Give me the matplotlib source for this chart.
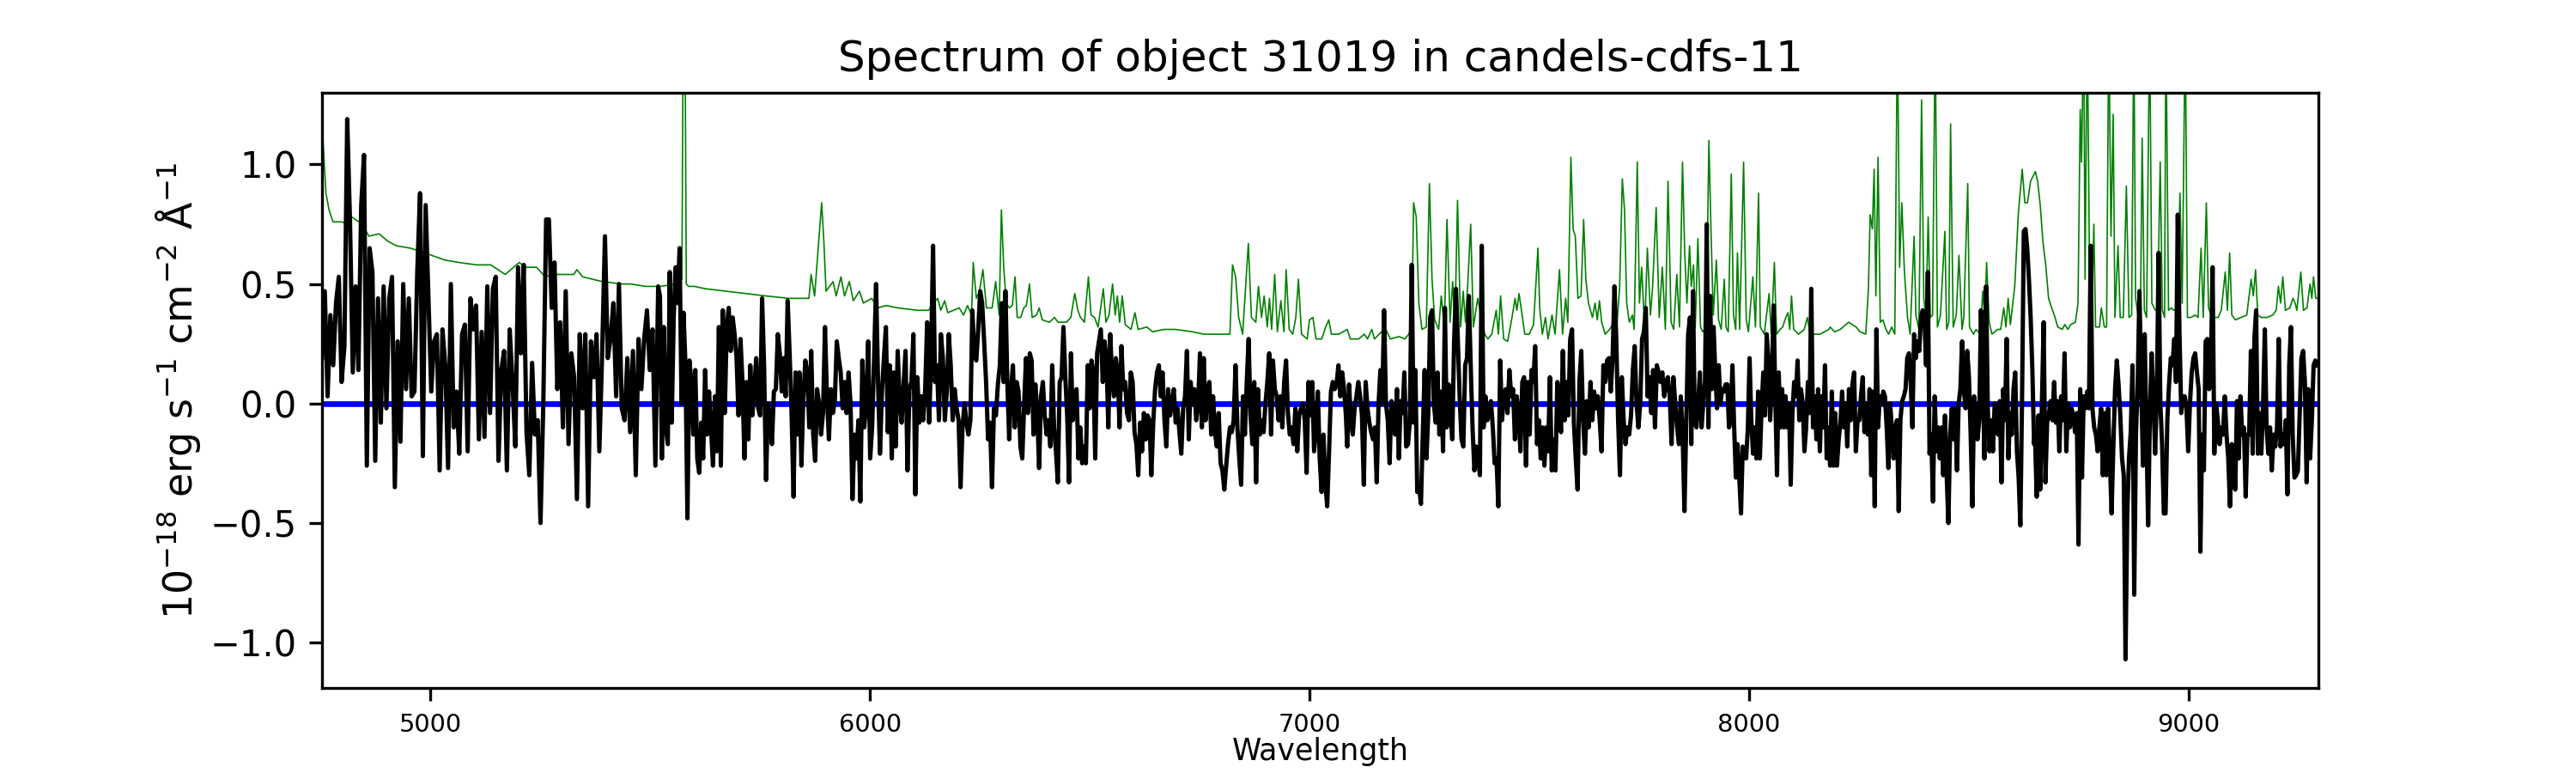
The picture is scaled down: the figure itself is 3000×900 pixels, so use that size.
import numpy as np
import matplotlib
matplotlib.use("Agg")
import matplotlib.pyplot as plt

# flux of object 31019 in six wavelength chunks
flux_a = [0.19, 0.47, 0.03, 0.37, 0.16, 0.42, 0.53, 0.09, 0.24, 1.19, 0.76, 0.13, 0.49, 0.14, 0.83, 1.04,
          -0.26, 0.65, 0.55, -0.24, 0.44, -0.08, 0.49, -0.02, 0.44, 0.53, -0.35, 0.26, -0.16, 0.50, 0.06,
          0.44, 0.03, 0.05, 0.55, 0.88, -0.22, 0.83, 0.44, 0.05, 0.26, 0.29, -0.28, 0.31, 0.16, -0.27, 0.50,
          -0.10, 0.05, -0.21, 0.29, 0.33, -0.20, 0.44, 0.31, 0.41, -0.15, 0.30, -0.14, 0.49, -0.04, 0.48,
          0.53, -0.24, 0.14, 0.22, -0.28, 0.31, 0.09, -0.18, 0.57, 0.21, 0.58, -0.12, -0.30, 0.17, -0.13,
          -0.07, -0.50, 0.00, 0.77, 0.77, 0.40, 0.59, 0.06, 0.34, -0.10, 0.47, -0.17, 0.21, 0.11, -0.40,
          0.29, -0.02, 0.29, -0.43, 0.26, 0.11, 0.29, -0.20, 0.21, 0.70, 0.19, 0.27, 0.42, 0.03, 0.50,
          -0.02, -0.07, 0.19, -0.12, 0.22, -0.30, 0.27, 0.06, 0.27, 0.39, 0.14, 0.31, -0.26, 0.49]
flux_b = [0.45, -0.23, 0.32, -0.10, -0.17, 0.55, -0.08, 0.36, 0.57, 0.42, 0.65, 0.00, 0.38, 0.16, -0.48,
          0.18, 0.09, -0.13, 0.14, -0.23, -0.29, -0.08, -0.23, 0.14, -0.13, 0.05, -0.10, -0.26, 0.03, -0.20,
          0.32, -0.26, 0.39, -0.04, 0.32, 0.40, 0.22, 0.36, 0.29, 0.19, -0.05, 0.27, 0.09, -0.23, 0.09,
          -0.15, 0.16, -0.05, 0.06, 0.19, -0.02, -0.05, 0.44, 0.16, -0.32, 0.00, -0.05, -0.17, 0.05, 0.06,
          0.29, 0.21, 0.05, 0.19, 0.03, 0.43, 0.21, -0.04, -0.39, 0.13, -0.13, 0.13, -0.26, 0.03, 0.18,
          0.13, -0.10, 0.22, -0.13, -0.24, 0.06, 0.00, -0.13, -0.04, 0.32, 0.03, -0.15, 0.06, -0.04, 0.01,
          0.26, 0.19, 0.13, -0.02, 0.09, -0.04, 0.13, 0.00, -0.40, -0.13, -0.23, -0.07, -0.41, 0.18, -0.10,
          0.00, 0.26, -0.23, -0.10, 0.19, 0.50, 0.09, -0.21, 0.05, 0.19, 0.32, -0.12, 0.16, -0.23, 0.13,
          -0.18, 0.22, 0.01, -0.08, 0.08, 0.22, -0.28, 0.06, 0.09, 0.29, -0.38, 0.11, -0.08, 0.03, -0.07,
          0.06, 0.34, -0.08, 0.19, 0.66, 0.09, 0.16, -0.07, 0.29, 0.19, -0.07, 0.05, 0.29, 0.16, -0.07,
          0.06, -0.02, -0.07, -0.35, -0.10, 0.00, -0.08, -0.13, -0.07, 0.39, 0.21, 0.18, 0.31, 0.47, 0.42,
          0.26, 0.09, -0.15, -0.08, -0.35, -0.02, -0.05, 0.08, 0.16, 0.42]
flux_c = [0.09, 0.47, 0.09, -0.15, 0.06, 0.16, -0.10, 0.09, 0.05, -0.18, -0.23, 0.00, 0.19, -0.04, 0.21,
          0.18, -0.13, 0.08, -0.04, -0.27, 0.03, 0.09, -0.05, -0.13, -0.07, -0.18, 0.16, -0.10, -0.20,
          -0.33, 0.09, 0.11, 0.32, 0.11, -0.05, -0.33, 0.21, -0.07, 0.03, 0.06, -0.23, -0.10, -0.25, -0.18,
          -0.25, 0.16, -0.02, 0.18, 0.13, -0.23, 0.21, 0.26, 0.31, 0.09, 0.26, 0.19, -0.10, 0.29, 0.11,
          0.03, 0.19, 0.13, -0.10, 0.24, 0.06, 0.09, -0.04, -0.07, 0.13, 0.09, -0.12, -0.17, -0.30, -0.08,
          -0.20, -0.04, -0.15, -0.05, -0.07, -0.30, -0.08, 0.06, 0.13, 0.16, 0.03, 0.13, -0.07, -0.18, 0.06,
          -0.05, 0.00, 0.06, -0.08, -0.02, -0.12, -0.21, -0.02, 0.03, 0.22, -0.15, 0.09, 0.00, 0.06, -0.07,
          0.00, 0.21, -0.10, 0.19, -0.07, 0.05, 0.09, -0.13, 0.03, -0.12, -0.18, -0.04, -0.25, -0.28, -0.36,
          -0.26, -0.17, -0.10, -0.12, -0.07, 0.16, -0.10, -0.23, -0.34, 0.03, -0.13, 0.09, 0.27, -0.05,
          -0.17, 0.09, -0.33, 0.06, -0.13, -0.07, -0.12, 0.00, 0.09, 0.21, -0.13, 0.18, 0.06, 0.03, -0.07,
          0.03, -0.10, 0.09, 0.18, -0.04, -0.13, -0.10, -0.17, -0.02, -0.20, -0.05, -0.02, 0.00, -0.07,
          -0.29, 0.09, -0.05, 0.09, -0.20, -0.10, 0.05, -0.23, -0.37, -0.13, -0.33, -0.43, -0.20, 0.05,
          0.09, 0.06, 0.08, 0.16, 0.03, 0.13, 0.06, -0.05]
flux_d = [-0.18, 0.08, -0.07, -0.13, -0.02, 0.03, 0.09, 0.03, -0.05, -0.34, 0.09, -0.02, -0.08, -0.12,
          -0.15, -0.10, -0.33, 0.00, 0.14, 0.00, 0.39, 0.00, -0.07, -0.25, 0.01, -0.04, -0.13, 0.06, -0.23,
          0.01, -0.04, 0.13, -0.18, -0.17, -0.07, 0.58, -0.08, 0.14, -0.37, -0.35, -0.42, -0.13, 0.14,
          -0.23, -0.04, 0.36, 0.39, 0.00, -0.08, 0.13, -0.13, 0.05, -0.20, 0.40, -0.10, 0.08, -0.02, -0.15,
          0.26, 0.48, 0.27, 0.03, -0.15, -0.18, 0.16, 0.19, 0.45, 0.16, -0.10, -0.28, -0.18, -0.23, -0.30,
          0.66, -0.10, 0.03, -0.07, -0.04, 0.01, -0.10, -0.25, -0.23, -0.43, 0.18, -0.07, 0.03, 0.06, -0.04,
          0.14, 0.03, 0.06, -0.15, 0.03, -0.05, -0.20, 0.09, 0.11, -0.26, 0.09, -0.13, 0.14, 0.09, 0.24,
          -0.17, -0.07, -0.23, -0.10, -0.26, -0.10, -0.20, 0.11, -0.28, -0.15, -0.28, 0.09, 0.03, -0.12,
          0.22, -0.07, 0.09, -0.05, 0.27, 0.31, -0.08, -0.23, -0.36, 0.09, 0.22, -0.07, -0.21, 0.01, -0.10,
          0.09, -0.07, 0.05, -0.02, 0.03, -0.07, -0.20, 0.16, 0.09, 0.18, 0.19, 0.05, 0.19, 0.49, 0.27,
          -0.07, -0.30, 0.11, -0.07, -0.17, -0.10, -0.13, -0.05, 0.14, 0.24, 0.00, -0.10, 0.00, 0.27, 0.30,
          0.40, 0.03, 0.11, -0.04, 0.14, -0.10, 0.16, 0.13, 0.09, 0.13, 0.03, 0.09, 0.11, 0.03, -0.17,
          0.11, 0.00, -0.10, -0.17, 0.03, -0.13, -0.45, -0.07, 0.29, 0.36]
flux_e = [-0.17, 0.47, -0.08, -0.10, 0.00, 0.13, -0.10, 0.00, 0.09, 0.75, -0.10, 0.45, 0.06, 0.32, 0.13,
          -0.02, 0.16, 0.00, 0.06, 0.05, 0.08, 0.08, -0.10, -0.07, 0.16, -0.10, -0.31, -0.17, -0.31, -0.46,
          -0.18, -0.20, -0.23, -0.10, 0.19, -0.07, -0.21, -0.10, -0.23, 0.05, -0.23, -0.02, 0.13, -0.05,
          0.29, 0.18, -0.07, 0.09, 0.41, 0.03, -0.30, 0.13, -0.10, 0.06, -0.10, 0.03, -0.10, 0.00, -0.34,
          -0.04, 0.09, 0.03, 0.18, -0.07, 0.06, 0.00, -0.20, -0.10, 0.09, -0.04, 0.48, -0.10, 0.03, -0.15,
          0.06, -0.20, 0.03, -0.10, 0.16, -0.23, -0.10, -0.26, 0.05, -0.26, -0.04, -0.26, -0.15, -0.08,
          0.05, -0.10, 0.00, -0.18, 0.06, -0.07, 0.08, 0.13, -0.20, -0.07, -0.07, 0.03, 0.11, -0.12, 0.00,
          -0.13, 0.06, -0.30, 0.05, -0.43, 0.31, -0.10, 0.03, 0.00, 0.05, 0.03, -0.10, -0.27, 0.00, -0.10,
          -0.23, -0.10, -0.07, -0.45, -0.07, 0.01, 0.03, 0.06, 0.19, 0.21, 0.09, -0.10, 0.29, 0.19, 0.26,
          0.22, 0.36, 0.39, 0.36, 0.16, 0.55, -0.21, -0.13, -0.41, 0.03, -0.20, -0.10, -0.23, -0.10, -0.30,
          -0.05, -0.30, -0.50, -0.13, -0.02, -0.15, -0.02, -0.28, 0.00, 0.06, 0.26, 0.06, -0.02, 0.22, 0.11,
          -0.13, -0.43, 0.03, -0.04, -0.15, -0.07, 0.39, 0.16, -0.23, 0.49, -0.02, -0.20, -0.07, -0.20, 0.00,
          -0.04, -0.13, 0.01, -0.33, 0.06, -0.07, 0.27, -0.23, -0.04, -0.13, 0.06, 0.13, -0.20, -0.31, -0.51,
          0.03, 0.72, 0.73, 0.65, 0.52, 0.36, 0.14, -0.17]
flux_f = [-0.13, -0.39, -0.05, -0.36, 0.00, 0.34, -0.33, -0.08, -0.04, 0.01, -0.07, 0.09, -0.08, 0.01,
          -0.20, 0.03, -0.07, 0.21, -0.20, 0.00, -0.10, -0.02, -0.05, -0.12, -0.04, -0.59, 0.06, -0.31,
          0.03, -0.02, 0.05, -0.02, 0.66, -0.02, -0.10, -0.13, -0.20, -0.10, -0.02, -0.30, -0.04, -0.30,
          -0.02, -0.23, -0.46, -0.18, 0.06, 0.18, 0.08, -0.05, -0.23, -0.30, -1.07, -0.46, -0.23, -0.12,
          0.16, -0.80, -0.13, 0.09, 0.47, 0.09, -0.26, 0.29, -0.10, -0.51, -0.04, 0.21, 0.03, -0.21, 0.03,
          0.63, 0.00, -0.17, -0.46, -0.46, -0.07, 0.08, 0.19, 0.16, 0.27, 0.09, 0.79, 0.29, -0.04, 0.03,
          0.03, -0.02, -0.20, 0.00, 0.13, 0.19, 0.21, 0.13, 0.06, -0.62, -0.13, -0.28, 0.26, 0.27, 0.06,
          0.13, 0.57, -0.21, 0.00, -0.07, -0.17, -0.10, -0.13, 0.03, -0.13, -0.23, -0.43, -0.17, -0.21,
          -0.36, 0.01, -0.23, 0.03, -0.13, -0.10, -0.39, -0.13, -0.13, 0.22, -0.21, 0.27, 0.39, -0.21,
          -0.04, -0.21, 0.00, 0.31, -0.10, -0.21, -0.10, -0.28, -0.13, -0.18, -0.10, 0.27, -0.18, -0.13,
          -0.17, -0.07, -0.38, 0.16, 0.32, -0.13, -0.31, -0.30, -0.28, -0.04, 0.19, 0.22, 0.09, -0.33,
          0.06, -0.23, -0.07, 0.16, 0.18, 0.16]
chunk_edges = [(4753, 5518), (5522, 6300), (6304, 7083), (7086, 7866), (7869, 8649), (8651, 9293)]

# sky / noise spectrum (green), wavelength and value pairs
sky_wave = [4751, 4762, 4769, 4778, 4798, 4811, 4821, 4837, 4850, 4860, 4883, 4902, 4922, 4954, 4987,
            5033, 5065, 5104, 5137, 5170, 5189, 5202, 5215, 5241, 5261, 5280, 5326, 5333, 5346, 5391,
            5437, 5456, 5489, 5522, 5561, 5572, 5575, 5579, 5582, 5587, 5600, 5626, 5672, 5717, 5763,
            5815, 5861, 5866, 5874, 5890, 5895, 5900, 5916, 5923, 5934, 5942, 5953, 5962, 5976, 5985,
            6004, 6017, 6037, 6063, 6108, 6134, 6140, 6154, 6161, 6170, 6177, 6203, 6213, 6222, 6231,
            6235, 6242, 6249, 6257, 6265, 6278, 6286, 6294, 6299, 6304, 6310, 6317, 6324, 6330, 6335,
            6343, 6350, 6356, 6363, 6369, 6379, 6385, 6392, 6408, 6420, 6428, 6447, 6457, 6466, 6473,
            6479, 6488, 6497, 6503, 6511, 6519, 6531, 6537, 6544, 6552, 6558, 6563, 6568, 6574, 6581,
            6594, 6603, 6610, 6630, 6643, 6669, 6695, 6734, 6760, 6799, 6819, 6825, 6832, 6839, 6848,
            6861, 6868, 6878, 6884, 6891, 6897, 6904, 6909, 6914, 6921, 6927, 6935, 6942, 6947, 6954,
            6962, 6969, 6975, 6982, 6995, 7000, 7008, 7015, 7028, 7037, 7044, 7050, 7067, 7086, 7093,
            7112, 7125, 7132, 7142, 7148, 7164, 7174, 7184, 7204, 7217, 7226, 7233, 7237, 7243, 7249,
            7256, 7266, 7273, 7279, 7285, 7294, 7300, 7307, 7313, 7320, 7326, 7331, 7337, 7344, 7350,
            7355, 7360, 7367, 7373, 7383, 7391, 7399, 7406, 7415, 7425, 7430, 7435, 7442, 7451, 7461,
            7468, 7472, 7477, 7484, 7490, 7500, 7510, 7520, 7524, 7530, 7537, 7543, 7552, 7559, 7569,
            7576, 7583, 7588, 7595, 7600, 7605, 7611, 7618, 7624, 7629, 7635, 7644, 7650, 7655, 7660,
            7665, 7673, 7683, 7693, 7699, 7706, 7712, 7717, 7722, 7728, 7735, 7739, 7746, 7751, 7756,
            7763, 7769, 7776, 7781, 7789, 7796, 7803, 7810, 7816, 7823, 7829, 7836, 7842, 7849, 7854,
            7859, 7865, 7869, 7874, 7878, 7884, 7890, 7895, 7903, 7909, 7914, 7919, 7926, 7931, 7937,
            7944, 7948, 7953, 7960, 7965, 7970, 7974, 7979, 7988, 7994, 7999, 8009, 8015, 8022, 8026,
            8035, 8046, 8051, 8058, 8063, 8071, 8077, 8084, 8089, 8093, 8097, 8102, 8113, 8126, 8133,
            8139, 8162, 8182, 8185, 8195, 8208, 8227, 8244, 8253, 8266, 8272, 8276, 8281, 8285, 8289,
            8294, 8299, 8305, 8312, 8318, 8325, 8332, 8338, 8343, 8348, 8354, 8361, 8367, 8376, 8380,
            8387, 8393, 8398, 8403, 8408, 8413, 8418, 8424, 8429, 8436, 8446, 8450, 8455, 8459, 8465,
            8472, 8478, 8485, 8489, 8498, 8502, 8511, 8517, 8527, 8532, 8537, 8541, 8547, 8553, 8566,
            8573, 8580, 8585, 8590, 8595, 8605, 8613, 8622, 8628, 8634, 8641, 8652, 8657, 8663, 8669,
            8676, 8682, 8689, 8695, 8703, 8713, 8719, 8726, 8732, 8743, 8749, 8754, 8757, 8762, 8765,
            8770, 8775, 8780, 8785, 8789, 8798, 8802, 8809, 8814, 8819, 8824, 8829, 8833, 8840, 8845,
            8852, 8859, 8865, 8871, 8876, 8880, 8886, 8891, 8895, 8900, 8905, 8912, 8917, 8925, 8930,
            8936, 8941, 8946, 8949, 8955, 8961, 8967, 8974, 8981, 8986, 8993, 8998, 9006, 9016, 9022,
            9029, 9034, 9041, 9046, 9052, 9060, 9068, 9075, 9084, 9089, 9094, 9099, 9107, 9120, 9133,
            9143, 9148, 9153, 9158, 9166, 9179, 9192, 9200, 9205, 9210, 9215, 9221, 9231, 9238, 9243,
            9247, 9256, 9262, 9270, 9277, 9281, 9285, 9290, 9296]
sky_flux = [1.24, 0.88, 0.81, 0.76, 0.76, 0.75, 0.78, 0.76, 0.73, 0.70, 0.71, 0.68, 0.66, 0.65, 0.63,
            0.60, 0.59, 0.58, 0.58, 0.54, 0.57, 0.59, 0.57, 0.57, 0.53, 0.54, 0.54, 0.56, 0.53, 0.51,
            0.50, 0.50, 0.49, 0.49, 0.50, 0.52, 1.60, 1.60, 0.50, 0.49, 0.49, 0.48, 0.47, 0.46, 0.45,
            0.44, 0.44, 0.54, 0.45, 0.84, 0.68, 0.47, 0.51, 0.45, 0.53, 0.45, 0.51, 0.43, 0.47, 0.42,
            0.44, 0.40, 0.41, 0.40, 0.39, 0.39, 0.41, 0.44, 0.39, 0.43, 0.38, 0.40, 0.37, 0.41, 0.37,
            0.59, 0.44, 0.47, 0.56, 0.40, 0.40, 0.51, 0.37, 0.81, 0.58, 0.42, 0.40, 0.41, 0.53, 0.36,
            0.36, 0.40, 0.41, 0.50, 0.36, 0.37, 0.40, 0.35, 0.34, 0.36, 0.34, 0.34, 0.36, 0.46, 0.39,
            0.36, 0.34, 0.53, 0.37, 0.36, 0.32, 0.48, 0.34, 0.37, 0.50, 0.37, 0.45, 0.34, 0.45, 0.33,
            0.31, 0.38, 0.31, 0.32, 0.30, 0.31, 0.31, 0.30, 0.29, 0.29, 0.29, 0.58, 0.53, 0.36, 0.29,
            0.67, 0.36, 0.34, 0.49, 0.36, 0.45, 0.32, 0.44, 0.31, 0.54, 0.30, 0.43, 0.30, 0.56, 0.31,
            0.29, 0.36, 0.52, 0.29, 0.27, 0.35, 0.36, 0.27, 0.27, 0.32, 0.35, 0.29, 0.29, 0.31, 0.27,
            0.27, 0.29, 0.27, 0.31, 0.27, 0.30, 0.31, 0.27, 0.28, 0.27, 0.29, 0.32, 0.84, 0.78, 0.42,
            0.31, 0.32, 0.92, 0.52, 0.35, 0.31, 0.45, 0.32, 0.77, 0.34, 0.51, 0.32, 0.85, 0.32, 0.47,
            0.34, 0.49, 0.75, 0.32, 0.44, 0.36, 0.29, 0.27, 0.29, 0.39, 0.29, 0.45, 0.27, 0.26, 0.36,
            0.44, 0.39, 0.46, 0.37, 0.29, 0.29, 0.33, 0.65, 0.40, 0.29, 0.36, 0.27, 0.37, 0.29, 0.56,
            0.29, 0.44, 0.34, 1.03, 0.73, 0.70, 0.44, 0.45, 0.77, 0.52, 0.42, 0.36, 0.42, 0.35, 0.43,
            0.34, 0.29, 0.31, 0.34, 0.31, 0.49, 0.94, 0.81, 0.42, 0.34, 0.37, 0.31, 1.01, 0.42, 0.57,
            0.31, 0.65, 0.37, 0.49, 0.82, 0.36, 0.57, 0.31, 0.93, 0.34, 0.31, 0.54, 0.32, 1.01, 0.63,
            0.42, 0.66, 0.49, 0.58, 0.32, 0.69, 0.32, 0.30, 0.32, 1.10, 0.71, 0.37, 0.60, 0.35, 0.31,
            0.52, 0.32, 0.30, 0.96, 0.37, 0.31, 0.63, 0.31, 1.01, 0.35, 0.30, 0.53, 0.32, 0.88, 0.32,
            0.29, 0.46, 0.29, 0.59, 0.29, 0.31, 0.32, 0.36, 0.38, 0.31, 0.45, 0.31, 0.29, 0.31, 0.36,
            0.29, 0.29, 0.31, 0.32, 0.30, 0.31, 0.34, 0.32, 0.30, 0.29, 0.48, 0.79, 0.73, 0.98, 0.45,
            1.03, 0.34, 0.35, 0.31, 0.29, 0.32, 0.29, 1.60, 0.57, 0.84, 0.55, 0.36, 0.29, 0.70, 0.37,
            0.31, 1.27, 0.44, 0.36, 0.78, 0.36, 0.37, 1.60, 0.32, 0.37, 0.72, 0.31, 0.34, 1.17, 0.32,
            0.37, 0.62, 0.31, 0.36, 0.92, 0.32, 0.29, 0.31, 0.29, 0.47, 0.36, 0.59, 0.34, 0.29, 0.31,
            0.31, 0.40, 0.32, 0.44, 0.33, 0.49, 0.79, 0.98, 0.84, 0.84, 0.93, 0.97, 0.93, 0.83, 0.68,
            0.57, 0.44, 0.40, 0.37, 0.32, 0.31, 0.33, 0.31, 0.33, 0.34, 0.42, 1.23, 1.01, 1.60, 0.52,
            1.60, 0.60, 0.32, 0.75, 0.32, 0.32, 0.40, 0.32, 0.32, 1.60, 0.70, 1.21, 0.36, 0.66, 0.36,
            0.36, 0.91, 0.36, 0.37, 1.60, 0.44, 0.36, 0.36, 1.11, 0.39, 0.36, 1.60, 0.42, 0.39, 0.39,
            1.01, 0.39, 0.36, 1.60, 0.39, 0.40, 0.39, 0.40, 0.88, 0.42, 1.60, 0.36, 0.36, 0.37, 0.36,
            0.65, 0.36, 0.84, 0.40, 0.37, 0.36, 0.36, 0.39, 0.55, 0.39, 0.63, 0.37, 0.35, 0.36, 0.37,
            0.52, 0.45, 0.56, 0.37, 0.36, 0.36, 0.37, 0.39, 0.49, 0.42, 0.53, 0.39, 0.40, 0.44, 0.42,
            0.39, 0.55, 0.39, 0.40, 0.50, 0.44, 0.53, 0.44, 0.44]

title = "Spectrum of object 31019 in candels-cdfs-11"

wave = np.concatenate([np.linspace(lo, hi, len(f)) for (lo, hi), f in
                       zip(chunk_edges, [flux_a, flux_b, flux_c, flux_d, flux_e, flux_f])])
flux = np.concatenate([flux_a, flux_b, flux_c, flux_d, flux_e, flux_f])

fig = plt.figure(figsize=(10, 3), dpi=300)
ax = plt.subplot(1, 1, 1)
ax.plot(sky_wave, sky_flux, color='g', lw=0.4)
ax.axhline(0.0, color='b', lw=1.6)
ax.plot(wave, flux, color='k', lw=1.2)

ax.set_xlim(4753, 9296)
ax.set_ylim(-1.19, 1.30)
ax.set_title(title)
ax.set_xlabel("Wavelength", fontsize='small', labelpad=0)
ax.set_ylabel(r"$10^{-18}$ erg s$^{-1}$ cm$^{-2}$ Å$^{-1}$", fontsize=11, labelpad=2)
ax.tick_params(axis='x', labelsize='x-small')

fig.savefig("out.png", dpi=300)
